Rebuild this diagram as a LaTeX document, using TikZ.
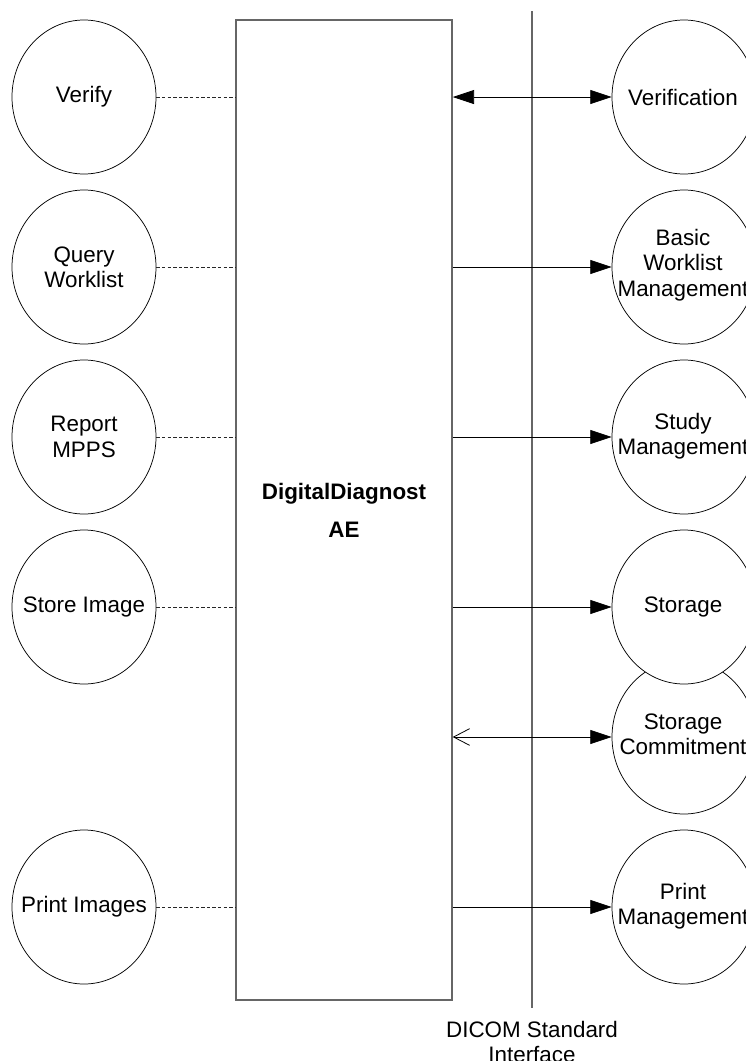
\documentclass[tikz,border=0pt]{standalone}
\usepackage{fontspec}
\setmainfont{Liberation Sans}
\usetikzlibrary{shapes.geometric,arrows.meta}
\tikzset{
	svc/.style={ellipse, draw, line width=0.55pt, fill=white, minimum width=108pt, minimum height=115.5pt, inner sep=0pt},
	lbl/.style={align=center, font=\fontsize{16.8}{19}\selectfont, inner sep=0pt},
	tie/.style={draw=black!85, line width=0.55pt, dash pattern=on 2.6pt off 1.6pt},
	flow/.style={line width=0.6pt},
}
\begin{document}
\begin{tikzpicture}[x=0.75pt, y=-0.75pt, >={Triangle[length=16pt,width=10.5pt]}]
		\useasboundingbox (0,0) rectangle (746,1061);
		\clip (0,0) rectangle (746,1061);
		% application entity
		\node [draw=black!60, line width=1.1pt, minimum width=162pt, minimum height=735pt, inner sep=0pt, align=center, font=\fontsize{16.8}{28.5}\selectfont\bfseries] (ae) at (344,510) {DigitalDiagnost\\AE};
		% interface line
		\coordinate (itop) at (532,11);
		\coordinate (ibot) at (532,1008);
		\draw [draw=black!60, line width=1pt] (itop) -- (ibot);
		\node [lbl] (dicom) at (532,1042) {DICOM Standard\\Interface};
		% local real-world activities
		\node [svc] (verify) at (84,97) {};
		\node [svc] (query) at (84,267) {};
		\node [svc] (mpps) at (84,437) {};
		\node [svc] (store) at (84,607) {};
		\node [svc] (print) at (84,907) {};
		\node [lbl] (verify-t) at (verify) {Verify};
		\node [lbl] (query-t) at (query) {Query\\Worklist};
		\node [lbl] (mpps-t) at (mpps) {Report\\MPPS};
		\node [lbl] (store-t) at (store) {Store Image};
		\node [lbl] (print-t) at (print) {Print Images};
		\draw [tie] (verify.east) -- (verify -| ae.west);
		\draw [tie] (query.east) -- (query -| ae.west);
		\draw [tie] (mpps.east) -- (mpps -| ae.west);
		\draw [tie] (store.east) -- (store -| ae.west);
		\draw [tie] (print.east) -- (print -| ae.west);
		% remote real-world activities
		\node [svc] (verif) at (684,97) {};
		\node [svc] (bwm) at (684,267) {};
		\node [svc] (study) at (684,437) {};
		\node [svc] (commit) at (684,737) {};
		\node [svc] (storage) at (684,607) {};
		\node [svc] (printmgmt) at (684,907) {};
		\node [lbl] (verif-t) at (683,97) {Verification};
		\node [lbl] (bwm-t) at (683,265) {Basic\\Worklist\\Management};
		\node [lbl] (study-t) at (683,436) {Study\\Management};
		\node [lbl] (storage-t) at (683,607) {Storage};
		\node [lbl] (commit-t) at (683,734) {Storage\\Commitment};
		\node [lbl] (printmgmt-t) at (683,906) {Print\\Management};
		\draw [flow, <->] (ae.east |- verif) -- (verif.west);
		\draw [flow, ->] (ae.east |- bwm) -- (bwm.west);
		\draw [flow, ->] (ae.east |- study) -- (study.west);
		\draw [flow, ->] (ae.east |- storage) -- (storage.west);
		\draw [flow, {Straight Barb[length=12pt,width=12.5pt]}->] (ae.east |- commit) -- (commit.west);
		\draw [flow, ->] (ae.east |- printmgmt) -- (printmgmt.west);
	\end{tikzpicture}
\end{document}
